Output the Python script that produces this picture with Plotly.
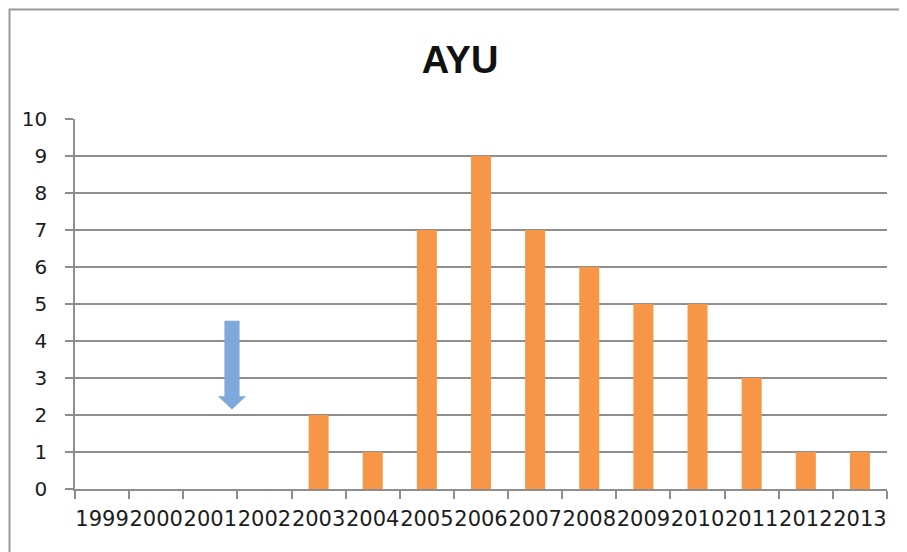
import plotly.graph_objects as go

years = ["1999", "2000", "2001", "2002", "2003", "2004", "2005", "2006",
         "2007", "2008", "2009", "2010", "2011", "2012", "2013"]
counts = [0, 0, 0, 0, 2, 1, 7, 9, 7, 6, 5, 5, 3, 1, 1]
y_ticks = list(range(0, 11))

# marker arrow (category index position, value range)
arrow_x = 2.4
arrow_top = 4.55
arrow_tip = 2.15

BAR_COLOR = "#F79646"
ARROW_COLOR = "#7FA8DD"
GRID = "#8E8E8E"
TXT = "#1C1C1C"

fig = go.Figure()
fig.add_trace(go.Bar(x=years, y=counts, marker=dict(color=BAR_COLOR, line=dict(width=0)),
                     width=0.37, hoverinfo="x+y"))

# arrow as path (x in category index units, y in data units)
sw = 0.14   # shaft half width in category units
hw = 0.26   # head half width
head_base = arrow_tip + 0.36
path = (f"M {arrow_x - sw},{arrow_top} L {arrow_x + sw},{arrow_top} "
        f"L {arrow_x + sw},{head_base} L {arrow_x + hw},{head_base} "
        f"L {arrow_x},{arrow_tip} L {arrow_x - hw},{head_base} "
        f"L {arrow_x - sw},{head_base} Z")
fig.add_shape(type="path", path=path, xref="x", yref="y",
              fillcolor=ARROW_COLOR, line=dict(width=0), layer="above")

# outer chart frame
fig.add_shape(type="rect", xref="paper", yref="paper",
              x0=(9.5 - 75) / 812, x1=1.3, y0=-0.4, y1=(489 - 9.5) / 370,
              line=dict(color="#9A9A9A", width=2), layer="below")

fig.update_layout(
    width=907, height=552,
    margin=dict(l=67, r=28, t=111, b=71),
    paper_bgcolor="white", plot_bgcolor="white",
    showlegend=False,
    title=dict(text="<b>AYU</b>", x=(460 - 8) / 907, xanchor="center",
               y=1 - (60 - 8) / 552, yanchor="middle",
               font=dict(family="Liberation Sans, Arial, sans-serif", size=38, color="#111111")),
    font=dict(family="DejaVu Sans, Verdana, sans-serif", size=21, color=TXT),
)
fig.update_xaxes(
    type="category", tickson="boundaries", ticks="outside", ticklen=8,
    tickcolor=GRID, tickwidth=1.5, showline=True, linecolor=GRID, linewidth=1.5,
    showgrid=False, tickfont=dict(size=21, color=TXT), ticklabelstandoff=10,
    tickangle=0, range=[-0.5, 14.5],
)
fig.update_yaxes(
    range=[0, 10], tickvals=y_ticks, ticks="outside", ticklen=8,
    tickcolor=GRID, tickwidth=1.5, showline=True, linecolor=GRID, linewidth=1.5,
    showgrid=True, gridcolor=GRID, gridwidth=1.5, zeroline=False,
    tickfont=dict(size=20, color=TXT), ticklabelstandoff=14,
)

fig.write_html("out.html")
